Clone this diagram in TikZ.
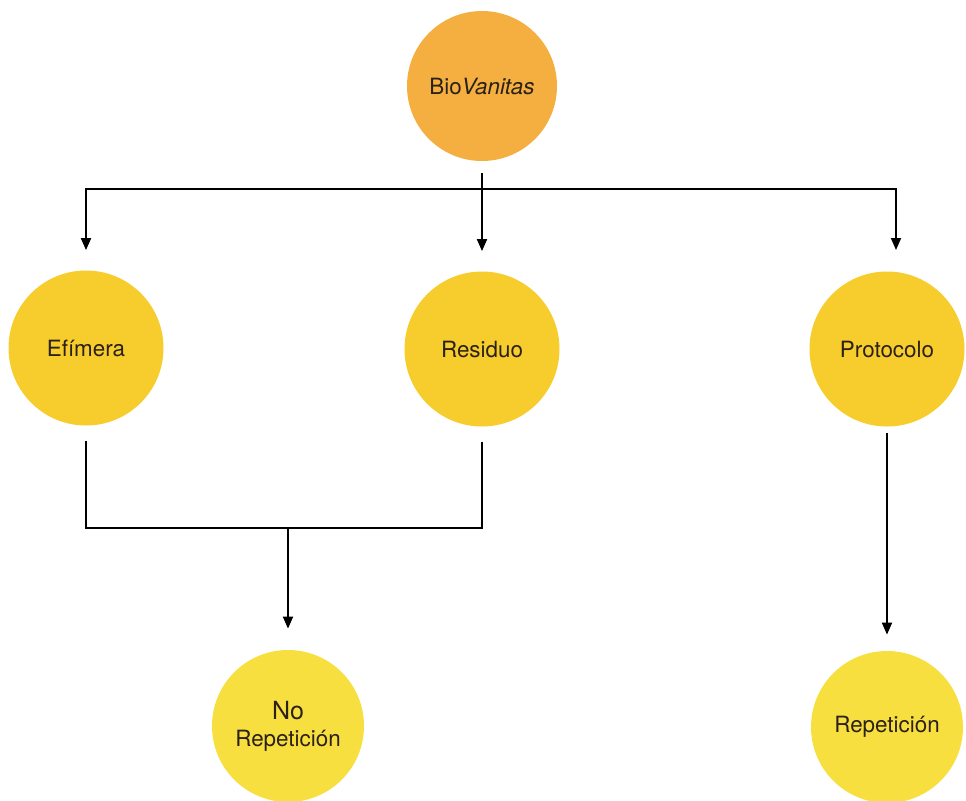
\documentclass[tikz,border=0pt]{standalone}
\usepackage{fontspec}
\setmainfont{TeX Gyre Heros}
\usetikzlibrary{arrows.meta}
\definecolor{orangeC}{HTML}{F4AF40}
\definecolor{yellowC}{HTML}{F6CD2C}
\definecolor{lightY}{HTML}{F7DF3F}
\definecolor{txt}{HTML}{2B2118}
\begin{document}
\begin{tikzpicture}[x=0.5pt,y=-0.5pt,
  circ/.style={circle, inner sep=0pt, minimum size=77.5pt, text=txt,
    font=\fontsize{11.2}{13.5}\selectfont, align=center},
  conn/.style={line width=0.9pt, black},
  arr/.style={conn, -{Triangle[length=6pt,width=5pt]}}]
\useasboundingbox (0,0) rectangle (966,800);
\node[circ, fill=orangeC, minimum size=75pt] (bio) at (482,86) {Bio\textit{Vanitas}};
\node[circ, fill=yellowC] (efi) at (86,348) {Efímera};
\node[circ, fill=yellowC] (res) at (482,349) {Residuo};
\node[circ, fill=yellowC] (pro) at (887,349) {Protocolo};
\node[circ, fill=lightY, minimum size=76pt] (nor) at (288,726) {{\fontsize{12.5}{15}\selectfont No}\\Repetición};
\node[circ, fill=lightY, minimum size=76pt] (rep) at (887,727) {Repetición};
\coordinate (split) at (482,189);
\coordinate (ptip) at (896,250);
\coordinate (merge) at (288,528);
\draw[conn] ([yshift=-6pt]bio.south) -- (split);
\draw[arr] (split) -| ([yshift=10pt]efi.north);
\draw[arr] (split) -- ([yshift=10pt]res.north);
\draw[arr] (split) -| (ptip);
\draw[conn] ([yshift=-7.5pt]efi.south) |- (merge) -| ([yshift=-7.5pt]res.south);
\draw[arr] (merge) -- ([yshift=10.5pt]nor.north);
\draw[arr] ([yshift=-3pt]pro.south) -- ([yshift=8pt]rep.north);
\end{tikzpicture}
\end{document}
